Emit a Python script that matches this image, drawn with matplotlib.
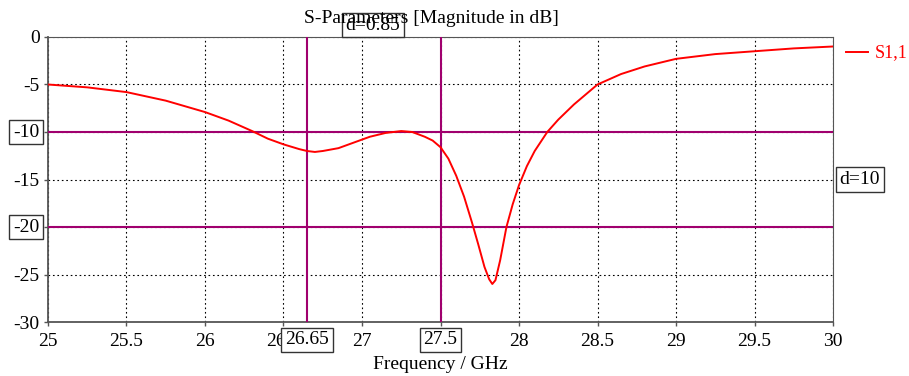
import matplotlib.pyplot as plt

plt.rcParams['font.family'] = ['Liberation Serif', 'DejaVu Serif']
plt.rcParams['axes.unicode_minus'] = False

# S1,1 magnitude
freq = [25.0, 25.25, 25.5, 25.75, 26.0, 26.15, 26.3, 26.4, 26.5, 26.6, 26.65, 26.7,
        26.75, 26.85, 26.95, 27.05, 27.15, 27.25, 27.32, 27.4, 27.45, 27.5, 27.55,
        27.6, 27.65, 27.7, 27.74, 27.78, 27.81, 27.83, 27.85, 27.88, 27.92, 27.96,
        28.0, 28.05, 28.1, 28.18, 28.25, 28.35, 28.5, 28.65, 28.8, 29.0, 29.25,
        29.5, 29.75, 30.0]
s11 = [-5.0, -5.3, -5.8, -6.7, -7.9, -8.8, -9.9, -10.7, -11.3, -11.8, -12.0, -12.1,
       -12.0, -11.7, -11.1, -10.5, -10.1, -9.9, -10.0, -10.5, -10.9, -11.6, -12.8,
       -14.6, -16.8, -19.5, -21.8, -24.2, -25.5, -26.0, -25.6, -23.5, -20.0, -17.6,
       -15.6, -13.6, -12.0, -10.0, -8.7, -7.1, -5.0, -3.9, -3.1, -2.3, -1.8,
       -1.5, -1.2, -1.0]

marker_x = [26.65, 27.5]
marker_y = [-10, -20]
xticks = [25, 25.5, 26, 26.5, 27, 27.5, 28, 28.5, 29, 29.5, 30]
yticks = [0, -5, -10, -15, -20, -25, -30]

purple = '#a0006e'
fs = 14
box = dict(boxstyle='square,pad=0.2', fc='white', ec='#333333', lw=1)

fig = plt.figure(figsize=(9.09, 3.76), dpi=100)
ax = fig.add_axes([0.0528, 0.1436, 0.8636, 0.758])

ax.plot(freq, s11, color='red', lw=1.4, zorder=4)
for x in marker_x:
    ax.axvline(x, color=purple, lw=1.5, zorder=3)
for y in marker_y:
    ax.axhline(y, color=purple, lw=1.5, zorder=3)

ax.set_xlim(25, 30)
ax.set_ylim(-30, 0)
ax.set_xticks(xticks)
# tick labels hidden under the marker boxes are left blank
ax.set_xticklabels(['' if t in marker_x else f'{t:g}' for t in xticks])
ax.set_yticks(yticks)
ax.set_yticklabels(['' if t in marker_y else f'{t:g}' for t in yticks])
ax.grid(True, color='black', ls=(0, (1.5, 2.5)), lw=0.8)
ax.tick_params(labelsize=fs, length=3, width=1, color='#555555')
ax.tick_params(axis='x', pad=5)
ax.tick_params(axis='y', pad=3)

for side in ['left', 'bottom']:
    ax.spines[side].set_linewidth(1.3)
    ax.spines[side].set_color('#555555')
for side in ['top', 'right']:
    ax.spines[side].set_linewidth(0.8)
    ax.spines[side].set_color('#555555')

ax.set_xlabel('Frequency / GHz', fontsize=fs, labelpad=4)
fig.text(0.475, 0.952, 'S-Parameters [Magnitude in dB]', fontsize=fs,
         ha='center', va='center')

# marker annotations
trans_x = ax.get_xaxis_transform()
trans_y = ax.get_yaxis_transform()
for x in marker_x:
    ax.text(x, -0.063, f'{x:g}', transform=trans_x, fontsize=fs, ha='center',
            va='center', bbox=box, zorder=6, clip_on=False)
for y in marker_y:
    ax.text(-0.011, y, f'{y:g}', transform=trans_y, fontsize=fs, ha='right',
            va='center', bbox=box, zorder=6, clip_on=False)
ax.text(0.4140, 1.042, 'd=0.85', transform=ax.transAxes, fontsize=fs,
        ha='center', va='center', bbox=box, zorder=6, clip_on=False)
ax.text(1.034, -15, 'd=10', transform=trans_y, fontsize=fs, ha='center',
        va='center', bbox=box, zorder=6, clip_on=False)

# legend
ax.plot([1.017, 1.045], [0.947, 0.947], transform=ax.transAxes, color='red',
        lw=1.4, clip_on=False)
ax.text(1.053, 0.947, 'S1,1', transform=ax.transAxes, color='red', fontsize=13,
        ha='left', va='center')

fig.savefig('out.png', dpi=100)
